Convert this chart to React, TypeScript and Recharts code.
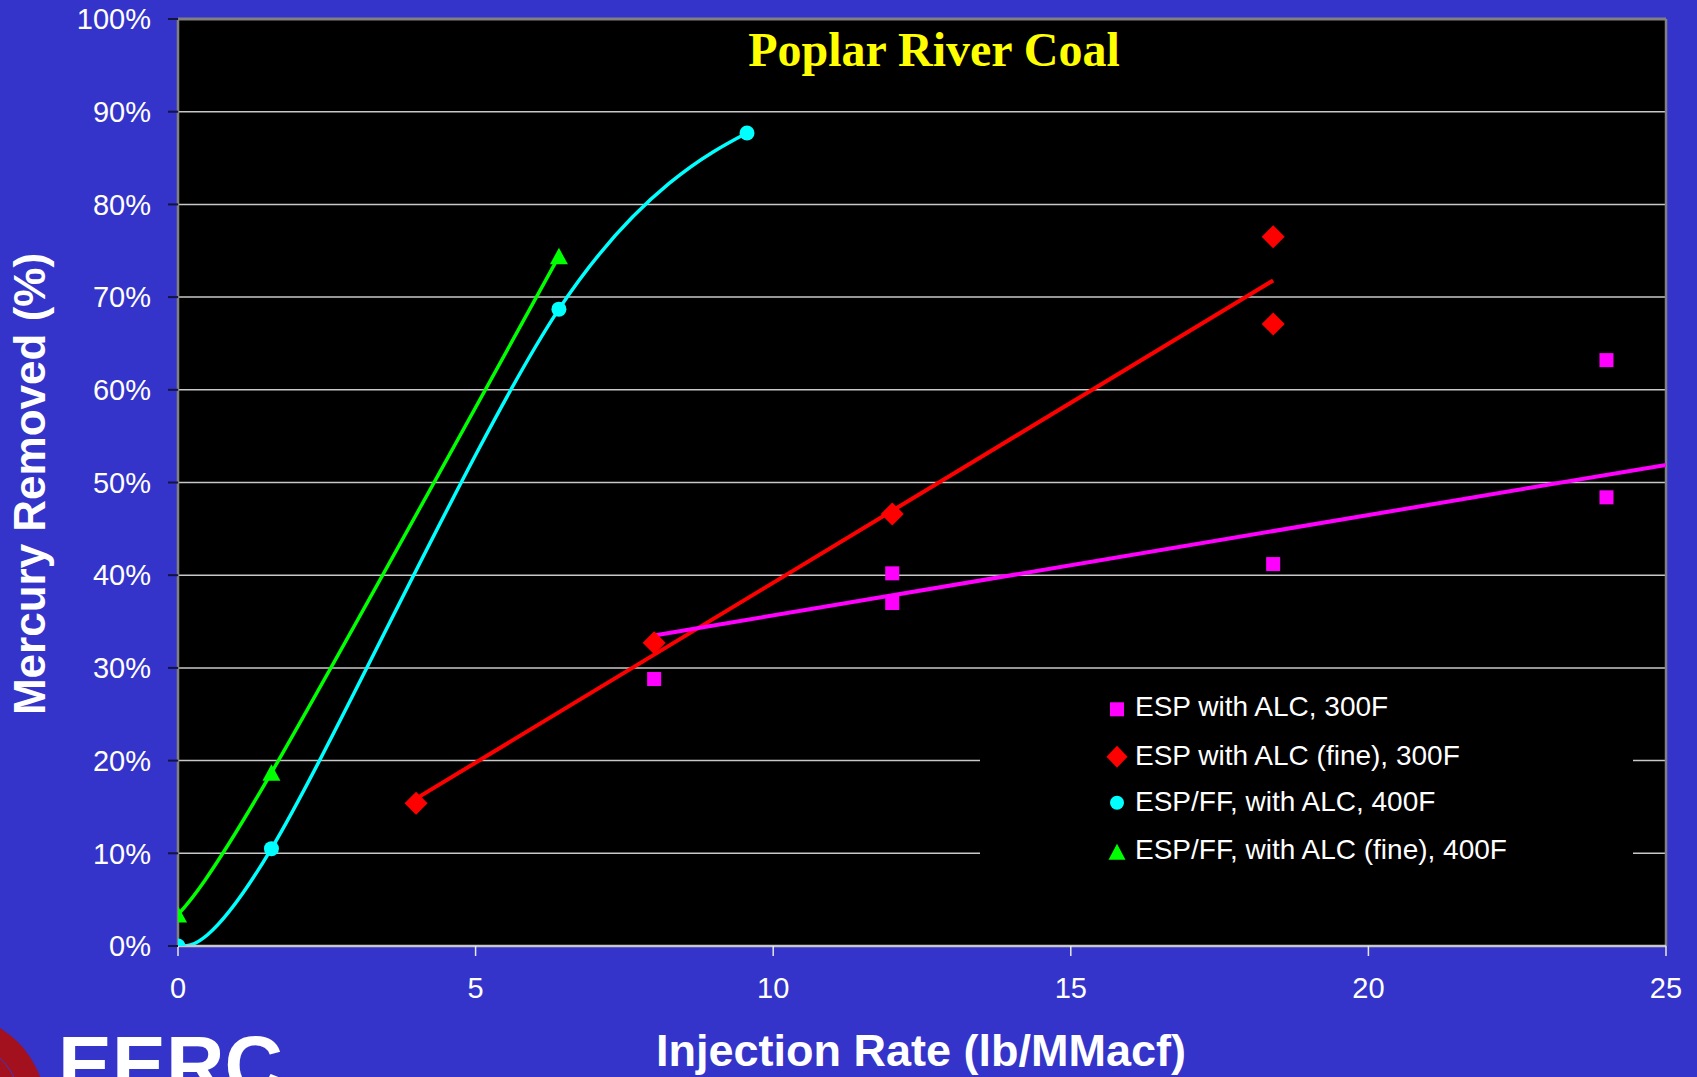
import React from 'react';
import {
  ComposedChart,
  Line,
  Scatter,
  XAxis,
  YAxis,
  CartesianGrid,
  Legend,
  ReferenceLine,
} from 'recharts';

// ---------- data ----------
const ESP_ALC_X = [8, 12, 12, 18.4, 24, 24];
const ESP_ALC_Y = [28.8, 40.2, 37.0, 41.2, 48.4, 63.2];

const ESP_FINE_X = [4, 8, 12, 18.4, 18.4];
const ESP_FINE_Y = [15.4, 32.7, 46.6, 76.5, 67.1];

const FF_ALC_X = [0, 1.57, 6.4, 9.56];
const FF_ALC_Y = [0, 10.5, 68.7, 87.7];

const FF_FINE_X = [0, 1.57, 6.4];
const FF_FINE_Y = [3.4, 18.7, 74.4];

const ESP_ALC_TREND_X = [8, 25];
const ESP_ALC_TREND_Y = [33.5, 51.9];

const ESP_FINE_TREND_X = [4, 18.4];
const ESP_FINE_TREND_Y = [15.9, 71.8];

const X_TICKS = [0, 5, 10, 15, 20, 25];
const Y_TICKS = [0, 10, 20, 30, 40, 50, 60, 70, 80, 90, 100];

const LEGEND_LABELS = [
  'ESP with ALC, 300F',
  'ESP with ALC (fine), 300F',
  'ESP/FF, with ALC, 400F',
  'ESP/FF, with ALC (fine), 400F',
];

const TITLE = 'Poplar River Coal';
const X_TITLE = 'Injection Rate (lb/MMacf)';
const Y_TITLE = 'Mercury Removed (%)';

// ---------- style ----------
const BG = '#3434CA';
const MAGENTA = '#FF00FF';
const RED = '#FF0000';
const CYAN = '#00FFFF';
const GREEN = '#00FF00';
const SANS = 'Arial, "Liberation Sans", Helvetica, sans-serif';
const SERIF = '"Times New Roman", "Liberation Serif", serif';

const toPts = (xs: number[], ys: number[]) => xs.map((x, i) => ({ x, y: ys[i] }));

const espAlc = toPts(ESP_ALC_X, ESP_ALC_Y);
const espFine = toPts(ESP_FINE_X, ESP_FINE_Y);
const ffAlc = toPts(FF_ALC_X, FF_ALC_Y);
const ffFine = toPts(FF_FINE_X, FF_FINE_Y);
const espAlcTrend = toPts(ESP_ALC_TREND_X, ESP_ALC_TREND_Y);
const espFineTrend = toPts(ESP_FINE_TREND_X, ESP_FINE_TREND_Y);

// ---------- Excel-like smoothed curve (Bezier, Catmull-Rom tangents) ----------
const clampBetween = (v: number, a: number, b: number) =>
  Math.min(Math.max(v, Math.min(a, b)), Math.max(a, b));

class ExcelSmooth {
  _context: any;
  _pts: number[][];
  _line: number;
  constructor(context: any) {
    this._context = context;
    this._pts = [];
    this._line = NaN;
  }
  areaStart() {
    this._line = 0;
  }
  areaEnd() {
    this._line = NaN;
  }
  lineStart() {
    this._pts = [];
  }
  point(x: number, y: number) {
    this._pts.push([+x, +y]);
  }
  lineEnd() {
    const p = this._pts;
    const n = p.length;
    const c = this._context;
    if (n) {
      if (this._line) c.lineTo(p[0][0], p[0][1]);
      else c.moveTo(p[0][0], p[0][1]);
      if (n === 2) {
        c.lineTo(p[1][0], p[1][1]);
      } else if (n > 2) {
        for (let i = 0; i < n - 1; i++) {
          const p1 = p[i];
          const p2 = p[i + 1];
          let c1x = 0, c1y = 0, c2x = 0, c2y = 0;
          if (i > 0) {
            const p0 = p[i - 1];
            c1x = p1[0] + (p2[0] - p0[0]) / 6;
            c1y = p1[1] + (p2[1] - p0[1]) / 6;
          }
          if (i + 2 < n) {
            const p3 = p[i + 2];
            c2x = p2[0] - (p3[0] - p1[0]) / 6;
            c2y = p2[1] - (p3[1] - p1[1]) / 6;
          }
          if (i === 0) {
            c1x = p1[0] + (c2x - p1[0]) / 3;
            c1y = clampBetween(p1[1] + (c2y - p1[1]) / 3, p1[1], p2[1]);
          }
          if (i + 2 >= n) {
            c2x = p2[0] + (c1x - p2[0]) / 3;
            c2y = clampBetween(p2[1] + (c1y - p2[1]) / 3, p1[1], p2[1]);
          }
          c.bezierCurveTo(c1x, c1y, c2x, c2y, p2[0], p2[1]);
        }
      }
    }
    if (this._line || (this._line !== 0 && n === 1)) c.closePath();
    this._line = 1 - this._line;
  }
}
const curveExcel: any = (context: any) => new ExcelSmooth(context);

// ---------- marker shapes ----------
const SquareShape = (props: any) => {
  const { cx, cy } = props;
  if (cx == null || cy == null) return <g />;
  return <rect x={cx - 7} y={cy - 7} width={14} height={14} fill={MAGENTA} />;
};

const DiamondShape = (props: any) => {
  const { cx, cy } = props;
  if (cx == null || cy == null) return <g />;
  const r = 11.5;
  return (
    <polygon
      points={`${cx},${cy - r} ${cx + r},${cy} ${cx},${cy + r} ${cx - r},${cy}`}
      fill={RED}
    />
  );
};

const CircleDot = (props: any) => {
  const { cx, cy, index } = props;
  return <circle key={`cd-${index}`} cx={cx} cy={cy} r={7.5} fill={CYAN} />;
};

const TriangleDot = (props: any) => {
  const { cx, cy, index } = props;
  return (
    <polygon
      key={`td-${index}`}
      points={`${cx},${cy - 8.5} ${cx + 9},${cy + 8} ${cx - 9},${cy + 8}`}
      fill={GREEN}
    />
  );
};

// ---------- legend ----------
const LEG_MARK_X = 137;
const LEG_TEXT_X = 155;
const LEG_BASE_Y = [35.7, 85, 130.7, 179];
const LEG_MARK_Y = [29.3, 76.7, 122.7, 171.7];

const legendMarker = (i: number, cx: number, cy: number) => {
  if (i === 0) return <rect x={cx - 7} y={cy - 7} width={14} height={14} fill={MAGENTA} />;
  if (i === 1)
    return (
      <polygon
        points={`${cx},${cy - 11} ${cx + 10.5},${cy} ${cx},${cy + 11} ${cx - 10.5},${cy}`}
        fill={RED}
      />
    );
  if (i === 2) return <circle cx={cx} cy={cy} r={7} fill={CYAN} />;
  return (
    <polygon
      points={`${cx},${cy - 8} ${cx + 8.5},${cy + 8} ${cx - 8.5},${cy + 8}`}
      fill={GREEN}
    />
  );
};

const LegendBox = () => (
  <svg width={653} height={200} style={{ display: 'block', background: '#000' }}>
    {LEGEND_LABELS.map((label, i) => (
      <g key={label}>
        {legendMarker(i, LEG_MARK_X, LEG_MARK_Y[i])}
        <text
          x={LEG_TEXT_X}
          y={LEG_BASE_Y[i]}
          fill="#FFFFFF"
          fontFamily={SANS}
          fontSize={28}
        >
          {label}
        </text>
      </g>
    ))}
  </svg>
);

// ---------- app ----------
export default function App() {
  return (
    <div
      style={{
        position: 'absolute',
        left: 0,
        top: 0,
        width: 1697,
        height: 1077,
        background: BG,
        overflow: 'hidden',
      }}
    >
      <ComposedChart
        width={1697}
        height={1077}
        margin={{ top: 19, right: 31, bottom: 0, left: 0 }}
      >
        <CartesianGrid
          horizontal
          vertical={false}
          stroke="#C8C8C8"
          strokeWidth={1.5}
          fill="#000000"
          fillOpacity={1}
        />
        <XAxis
          type="number"
          dataKey="x"
          domain={[0, 25]}
          ticks={X_TICKS}
          allowDataOverflow
          height={131}
          tickSize={10}
          tickMargin={21}
          axisLine={{ stroke: '#C8C8C8', strokeWidth: 2.5 }}
          tickLine={{ stroke: '#E8E8E8', strokeWidth: 1.5 }}
          tick={{ fill: '#FFFFFF', fontSize: 29, fontFamily: SANS }}
        />
        <YAxis
          type="number"
          dataKey="y"
          domain={[0, 100]}
          ticks={Y_TICKS}
          allowDataOverflow
          width={178}
          tickSize={10}
          tickMargin={17}
          tickFormatter={(v: number) => `${v}%`}
          axisLine={{ stroke: '#808080', strokeWidth: 2.5 }}
          tickLine={{ stroke: '#14143C', strokeWidth: 2 }}
          tick={{ fill: '#FFFFFF', fontSize: 29, fontFamily: SANS }}
        />
        <ReferenceLine y={100} stroke="#808080" strokeWidth={3} ifOverflow="visible" />
        <ReferenceLine x={25} stroke="#808080" strokeWidth={2.5} ifOverflow="visible" />

        <Line
          data={espFineTrend}
          dataKey="y"
          type="linear"
          stroke={RED}
          strokeWidth={4}
          dot={false}
          activeDot={false}
          legendType="none"
          isAnimationActive={false}
        />
        <Line
          data={espAlcTrend}
          dataKey="y"
          type="linear"
          stroke={MAGENTA}
          strokeWidth={4}
          dot={false}
          activeDot={false}
          legendType="none"
          isAnimationActive={false}
        />
        <Scatter
          name={LEGEND_LABELS[0]}
          data={espAlc}
          dataKey="y"
          fill={MAGENTA}
          shape={SquareShape}
          isAnimationActive={false}
        />
        <Scatter
          name={LEGEND_LABELS[1]}
          data={espFine}
          dataKey="y"
          fill={RED}
          shape={DiamondShape}
          isAnimationActive={false}
        />
        <Line
          name={LEGEND_LABELS[2]}
          data={ffAlc}
          dataKey="y"
          type={curveExcel}
          stroke={CYAN}
          strokeWidth={3.5}
          dot={CircleDot}
          activeDot={false}
          isAnimationActive={false}
        />
        <Line
          name={LEGEND_LABELS[3]}
          data={ffFine}
          dataKey="y"
          type={curveExcel}
          stroke={GREEN}
          strokeWidth={3.5}
          dot={TriangleDot}
          activeDot={false}
          isAnimationActive={false}
        />
        <Legend
          layout="vertical"
          align="center"
          verticalAlign="middle"
          content={() => <LegendBox />}
          wrapperStyle={{
            position: 'absolute',
            left: 980,
            top: 680,
            width: 653,
            height: 200,
            margin: 0,
            padding: 0,
          }}
        />
      </ComposedChart>

      <svg
        width={1697}
        height={1077}
        style={{ position: 'absolute', left: 0, top: 0, pointerEvents: 'none' }}
      >
        <text
          x={934}
          y={66}
          textAnchor="middle"
          fill="#FFFF00"
          fontFamily={SERIF}
          fontWeight="bold"
          fontSize={48}
        >
          {TITLE}
        </text>
        <text
          x={45}
          y={484}
          transform="rotate(-90, 45, 484)"
          textAnchor="middle"
          fill="#FFFFFF"
          fontFamily={SANS}
          fontWeight="bold"
          fontSize={44}
        >
          {Y_TITLE}
        </text>
        <text
          x={921}
          y={1066}
          textAnchor="middle"
          fill="#FFFFFF"
          fontFamily={SANS}
          fontWeight="bold"
          fontSize={45}
        >
          {X_TITLE}
        </text>
        {/* EERC logo fragment */}
        <circle cx={-50} cy={1110} r={96} fill="#A3101E" />
        <circle cx={-50} cy={1110} r={72} fill="none" stroke="#3A3AD0" strokeWidth={1} />
        <circle cx={-50} cy={1110} r={56} fill="none" stroke="#3A3AD0" strokeWidth={1} />
        <text x={58} y={1093} fill="#FFFFFF" fontFamily={SANS} fontWeight="bold" fontSize={81}>
          EERC
        </text>
      </svg>
    </div>
  );
}
